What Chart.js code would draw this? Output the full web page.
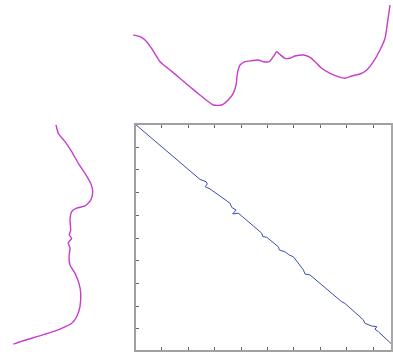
<!DOCTYPE html>
<html>
<head>
<meta charset="utf-8">
<script src="https://cdn.jsdelivr.net/npm/chart.js@4.4.1/dist/chart.umd.min.js"></script>
<style>
  html, body { margin: 0; padding: 0; background: #fff; }
  #wrap { position: relative; width: 393px; height: 354px; overflow: hidden; background: #fff; }
  #wrap canvas { position: absolute; left: 0; top: 0; }
  #edge { position: absolute; left: 391px; top: 123px; width: 2px; height: 229px; background: #a8a8a8; }
</style>
</head>
<body>
<div id="wrap">
  <canvas id="cTop" width="400" height="354"></canvas>
  <canvas id="cLeft" width="400" height="354"></canvas>
  <canvas id="cMain" width="400" height="354"></canvas>
  <div id="edge"></div>
</div>
<script>
// Top signal: sample index (0..100) and amplitude
const topIdx = [-0.6, 1.9, 3.8, 6.3, 9.5, 13.3, 17.0, 20.8, 24.6, 27.8, 29.7, 32.8, 35.3, 37.2, 38.3, 38.8, 39.8, 41.7, 44.2, 46.7, 48.6, 50.9, 52.4, 53.7, 54.7, 56.8, 58.7, 60.6, 63.8, 66.3, 68.2, 70.7, 73.9, 77.0, 79.5, 82.1, 85.2, 87.8, 90.3, 92.8, 94.7, 95.6, 96.6];
const topAmp = [75, 73.3, 70, 61.7, 48.3, 40, 31.7, 23.3, 15, 8.3, 5, 5, 10, 16.7, 25, 36.7, 45, 48.3, 49.3, 50, 48.3, 48.3, 53.3, 58.3, 56, 51.7, 51.7, 54, 55, 52.7, 48.3, 41.7, 36.7, 33.3, 31.7, 34, 36, 40, 48.3, 60, 71.7, 86.7, 105];

// Left signal: sample index (0..100, downward) and amplitude
const leftIdx = [0.4, 4.1, 7.8, 12.2, 17.3, 21.7, 26.1, 29.8, 33.5, 36.1, 37.1, 38.6, 42.3, 46.7, 48.9, 50.4, 52.3, 54.8, 58.5, 62.1, 65.8, 70.2, 74.6, 80.5, 84.9, 87.8, 90.0, 91.9, 93.7, 95.5, 97.0];
const leftAmp = [56, 58.3, 65, 71.7, 78.3, 85, 90.7, 92.7, 90.7, 85, 76.7, 71.7, 70, 70.7, 69.3, 71.7, 68.3, 70, 69, 70, 75, 79, 80.7, 80, 76.7, 71.7, 61.7, 50, 36.7, 23.3, 13.3];

// Warping path: top-signal index vs left-signal index
const pathX = [0, 24.6, 26.9, 27.4, 26.6, 28.4, 36.0, 36.6, 38.3, 37.0, 39.1, 40.4, 48.0, 48.4, 49.9, 54.3, 54.7, 56.8, 58.4, 60.0, 63.8, 64.4, 66.3, 78.3, 79.5, 86.5, 87.1, 89.7, 91.6, 90.9, 92.2, 100];
const pathY = [0, 24.4, 25.4, 26.4, 27.6, 28.6, 34.9, 36.7, 37.9, 39.6, 39.3, 40.5, 48.1, 49.6, 49.9, 54.1, 55.5, 56.3, 57.7, 58.5, 64.3, 66.1, 66.5, 78.3, 79.0, 86.3, 87.8, 89.0, 89.3, 90.4, 91.5, 100];

const tickVals = [0, 10, 20, 30, 40, 50, 60, 70, 80, 90, 100];

const MAGENTA = '#c83ccc';
const BLUE = '#3c4ca8';

function pts(xs, ys) { return xs.map((x, i) => ({ x: x, y: ys[i] })); }

const hiddenAxis = (extra) => Object.assign({
  type: 'linear', display: true,
  ticks: { display: false },
  grid: { display: false, drawTicks: false },
  border: { display: false },
  title: { display: false }
}, extra);

const baseOpts = (padding, xs, ys) => ({
  responsive: false,
  animation: false,
  events: [],
  layout: { padding: padding },
  plugins: { legend: { display: false }, tooltip: { enabled: false } },
  scales: { x: hiddenAxis(xs), y: hiddenAxis(ys) }
});

// Top signal chart: x area 129.7 .. 399, y area 0 .. 110
new Chart(document.getElementById('cTop'), {
  type: 'scatter',
  data: { datasets: [{ data: pts(topIdx, topAmp), showLine: true, borderColor: MAGENTA, borderWidth: 1.4, pointRadius: 0, tension: 0.2, fill: false }] },
  options: baseOpts({ left: 129.7, right: 1, top: 0, bottom: 244 }, { min: -2, max: 100 }, { min: 0, max: 110 })
});

// Left signal chart: x area 0 .. 130, y area 124 .. 351
new Chart(document.getElementById('cLeft'), {
  type: 'scatter',
  data: { datasets: [{ data: pts(leftAmp, leftIdx), showLine: true, borderColor: MAGENTA, borderWidth: 1.4, pointRadius: 0, tension: 0.2, fill: false }] },
  options: baseOpts({ left: 0, right: 270, top: 124, bottom: 3 }, { min: 0, max: 130 }, { min: 0, max: 100, reverse: true })
});

// Frame + inward ticks for main plot
const framePlugin = {
  id: 'frame',
  afterDraw(chart) {
    const { ctx, chartArea: a, scales } = chart;
    ctx.save();
    ctx.strokeStyle = '#666';
    ctx.lineWidth = 1;
    const L = 4;
    ctx.beginPath();
    scales.x.ticks.forEach(t => {
      const px = Math.round(scales.x.getPixelForValue(t.value)) + 0.5;
      ctx.moveTo(px, a.top); ctx.lineTo(px, a.top + L);
      ctx.moveTo(px, a.bottom); ctx.lineTo(px, a.bottom - L);
    });
    scales.y.ticks.forEach(t => {
      const py = Math.round(scales.y.getPixelForValue(t.value)) + 0.5;
      ctx.moveTo(a.left, py); ctx.lineTo(a.left + L, py);
      ctx.moveTo(a.right, py); ctx.lineTo(a.right - L, py);
    });
    ctx.stroke();
    ctx.strokeStyle = '#a0a0a0';
    ctx.lineWidth = 2;
    ctx.strokeRect(a.left, a.top, a.right - a.left, a.bottom - a.top);
    ctx.restore();
  }
};

// Main warping-path chart: x area 135 .. 399, y area 124 .. 351
new Chart(document.getElementById('cMain'), {
  type: 'scatter',
  data: { datasets: [{ data: pts(pathX, pathY), showLine: true, borderColor: BLUE, borderWidth: 1, pointRadius: 0, tension: 0, fill: false }] },
  options: baseOpts({ left: 135, right: 1, top: 124, bottom: 3 },
    { min: 0, max: 100, afterBuildTicks: s => { s.ticks = tickVals.map(v => ({ value: v })); } },
    { min: 0, max: 100, reverse: true, afterBuildTicks: s => { s.ticks = tickVals.map(v => ({ value: v })); } }),
  plugins: [framePlugin]
});
</script>
</body>
</html>
